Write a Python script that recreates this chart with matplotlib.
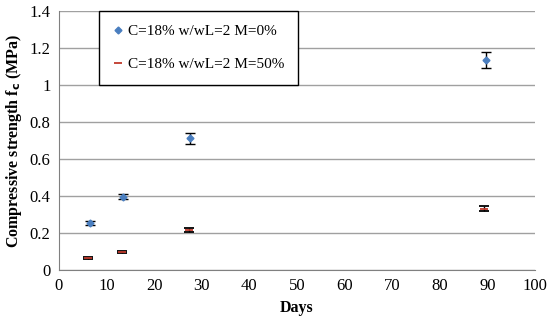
import matplotlib
matplotlib.use('Agg')
import matplotlib.pyplot as plt
from matplotlib.ticker import FuncFormatter

plt.rcParams['font.family'] = 'Liberation Serif'

# M=0% series
days_m0 = [6.5, 13.5, 27.5, 89.6]
fc_m0 = [0.253, 0.397, 0.712, 1.135]
err_m0 = [0.012, 0.015, 0.03, 0.045]

# M=50% series
days_m50 = [6.1, 13.2, 27.3, 89.2]
fc_m50 = [0.066, 0.098, 0.217, 0.332]
err_m50 = [0.004, 0.005, 0.01, 0.012]

labels = ['C=18% w/wL=2 M=0%', 'C=18% w/wL=2 M=50%']

fig = plt.figure(figsize=(5.5, 3.23), dpi=100)
ax = fig.add_axes([0.107, 0.164, 0.866, 0.802])

ax.errorbar(days_m0, fc_m0, yerr=err_m0, fmt='D', color='#4a7ebf', markersize=3.5,
            ecolor='black', elinewidth=1, capsize=3.5, capthick=1, label=labels[0], zorder=3)
ax.errorbar(days_m50, fc_m50, yerr=err_m50, fmt='_', color='#c0392b', markersize=6,
            markeredgewidth=1.3, ecolor='black', elinewidth=1, capsize=3.5, capthick=1,
            label=labels[1], zorder=3)

ax.set_xlim(0, 100)
ax.set_ylim(0, 1.4)
ax.set_xticks(range(0, 101, 10))
ax.set_yticks([0, 0.2, 0.4, 0.6, 0.8, 1.0, 1.2, 1.4])
ax.yaxis.set_major_formatter(FuncFormatter(lambda v, p: '%g' % round(v, 2)))
ax.grid(axis='y', color='#a0a0a0', linewidth=1)
ax.set_axisbelow(True)
for s in ['top', 'right']:
    ax.spines[s].set_visible(False)
for s in ['left', 'bottom']:
    ax.spines[s].set_color('#808080')
ax.tick_params(length=0, labelsize=12, pad=6)

ax.set_xlabel('Days', fontsize=11.5, fontweight='bold', labelpad=4)
ax.set_ylabel('Compressive strength f$_\\mathbf{c}$ (MPa)', fontsize=11.5, fontweight='bold',
              labelpad=4)

leg_handles, leg_labels = ax.get_legend_handles_labels()
handles = [h[0] for h in leg_handles]
leg = ax.legend(handles, leg_labels, loc='upper left', bbox_to_anchor=(0.085, 1.0),
                frameon=True, fancybox=False, edgecolor='black', fontsize=11,
                handlelength=0.6, handletextpad=0.4, labelspacing=1.25,
                borderpad=0.9, borderaxespad=0)
leg.get_frame().set_linewidth(1)
leg.get_frame().set_alpha(1)

fig.savefig('out.png', dpi=100)
